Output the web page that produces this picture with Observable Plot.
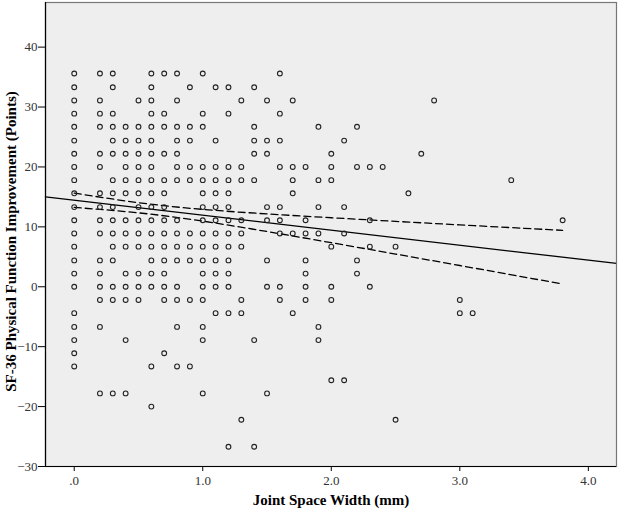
<!DOCTYPE html>
<html><head><meta charset="utf-8">
<script src="https://cdn.jsdelivr.net/npm/d3@7"></script>
<script src="https://cdn.jsdelivr.net/npm/@observablehq/plot@0.6"></script>
<style>body{margin:0;background:#fff}</style>
</head><body><div id="chart"></div>
<script>
// Score levels (SF-36 PF improvement, points) and JSW values (mm) observed at each level
const scoreLevels = [35.6, 33.3, 31.1, 28.9, 26.7, 24.4, 22.2, 20.0, 17.8, 15.6, 13.3, 11.1, 8.9, 6.7, 4.4, 2.2, 0, -2.2, -4.4, -6.7, -8.9, -11.1, -13.3, -15.6, -17.8, -20.0, -22.2, -26.7];
const jswAtLevel = [
  [0,.2,.3,.6,.7,.8,1.0,1.6],
  [0,.3,.6,.9,1.1,1.2,1.4],
  [0,.2,.5,.6,.8,1.3,1.5,1.7,2.8],
  [0,.2,.3,.6,.7,1.0,1.2,1.6],
  [0,.2,.3,.4,.5,.6,.7,.8,.9,1.0,1.4,1.9,2.2],
  [0,.3,.4,.5,.6,.8,.9,1.1,1.4,1.5,1.6,2.1],
  [0,.2,.3,.4,.5,.6,.7,.8,1.4,1.5,2.0,2.7],
  [0,.2,.4,.5,.6,.8,.9,1.0,1.1,1.2,1.3,1.6,1.7,1.8,2.0,2.2,2.3,2.4],
  [0,.3,.4,.5,.6,.7,.8,.9,1.0,1.1,1.2,1.3,1.4,1.7,1.9,2.0,3.4],
  [0,.2,.3,.4,.5,.6,.7,1.0,1.1,1.2,1.7,2.6],
  [0,.2,.3,.5,.6,.7,1.0,1.1,1.2,1.5,1.6,1.9,2.1],
  [0,.2,.3,.4,.5,.6,.7,.8,1.0,1.1,1.2,1.3,1.5,1.6,1.8,2.3,3.8],
  [0,.2,.3,.4,.5,.6,.7,.8,.9,1.0,1.1,1.2,1.3,1.6,1.7,1.8,1.9,2.1],
  [0,.3,.4,.5,.6,.7,.8,.9,1.0,1.1,1.2,1.3,2.0,2.3,2.5],
  [0,.2,.3,.6,.7,.8,.9,1.0,1.1,1.2,1.5,1.8,2.2],
  [0,.2,.4,.5,.6,.7,1.0,1.1,1.2,1.8,2.2],
  [0,.2,.3,.4,.5,.6,.7,.8,1.0,1.1,1.2,1.5,1.6,1.8,2.0,2.3],
  [.2,.3,.4,.5,.7,.8,.9,1.0,1.3,1.6,1.8,2.0,3.0],
  [0,1.1,1.2,1.3,1.7,3.0,3.1],
  [0,.2,.8,1.0,1.9],
  [0,.4,1.0,1.4,1.9],
  [0,.7],
  [0,.6,.8,.9],
  [2.0,2.1],
  [.2,.3,.4,1.0,1.5],
  [.6],
  [1.3,2.5],
  [1.2,1.4]
];

// Fit line (total) and 95% CI of the mean
const fitIntercept = 14.44;
const fitSlope = -2.5;
const ciX = [0, 0.5, 1.0, 1.5, 2.0, 2.5, 3.0, 3.5, 3.8];
const ciUpper = [15.64, 14.04, 12.92, 12.16, 11.52, 10.92, 10.33, 9.76, 9.42];
const ciLower = [13.24, 12.34, 10.96, 9.22, 7.36, 5.46, 3.55, 1.62, 0.46];

// Ticks
const xTicks = [0, 1, 2, 3, 4];
const xTickLabels = [".0", "1.0", "2.0", "3.0", "4.0"];
const yTicks = [-30, -20, -10, 0, 10, 20, 30, 40];
const xTitle = "Joint Space Width (mm)";
const yTitle = "SF-36 Physical Function Improvement (Points)";

const points = [];
scoreLevels.forEach((s, i) => jswAtLevel[i].forEach(x => points.push({x, y: s})));
const xDomain = [-0.2235, 4.219];
const fitLine = xDomain.map(x => ({x, y: fitIntercept + fitSlope * x}));
const ciUp = ciX.map((x, i) => ({x, y: ciUpper[i]}));
const ciLo = ciX.map((x, i) => ({x, y: ciLower[i]}));
const serif = "'Liberation Serif', 'Times New Roman', serif";

const chart = Plot.plot({
  width: 618, height: 510,
  marginLeft: 45, marginRight: 2, marginTop: 2, marginBottom: 44,
  style: {fontFamily: serif, fontSize: "13px", color: "#333", background: "#fff"},
  x: {domain: xDomain},
  y: {domain: [-30, 47.45]},
  marks: [
    Plot.frame({fill: "#eeeeee", stroke: null}),
    Plot.axisX(xTicks, {tickSize: 5, tickPadding: 4, tickFormat: d => xTickLabels[xTicks.indexOf(d)], label: null, stroke: "#000", fontSize: 13}),
    Plot.axisY(yTicks, {tickSize: 7, tickPadding: 1, label: null, stroke: "#000", fontSize: 13}),
    Plot.line(fitLine, {x: "x", y: "y", stroke: "#000", strokeWidth: 1.3}),
    Plot.line(ciUp, {x: "x", y: "y", stroke: "#000", strokeWidth: 1.3, strokeDasharray: "7,4", curve: "natural"}),
    Plot.line(ciLo, {x: "x", y: "y", stroke: "#000", strokeWidth: 1.3, strokeDasharray: "7,4", curve: "natural"}),
    Plot.dot(points, {x: "x", y: "y", r: 2.4, stroke: "#222", strokeWidth: 1.1, fill: "none"}),
    Plot.frame({stroke: "#777", strokeWidth: 1.2}),
    Plot.ruleX([xDomain[0]], {stroke: "#000", strokeWidth: 1.2}),
    Plot.ruleY([-30], {stroke: "#000", strokeWidth: 1.2}),
    Plot.text([xTitle], {frameAnchor: "bottom", dy: 34, textAnchor: "middle", lineAnchor: "middle", fontFamily: serif, fontWeight: "bold", fontSize: 15, fill: "#000"}),
    Plot.text([yTitle], {frameAnchor: "left", dx: -34, dy: 7, rotate: -90, textAnchor: "middle", lineAnchor: "middle", fontFamily: serif, fontWeight: "bold", fontSize: 15, fill: "#000"})
  ]
});
document.getElementById("chart").appendChild(chart);
</script></body></html>
